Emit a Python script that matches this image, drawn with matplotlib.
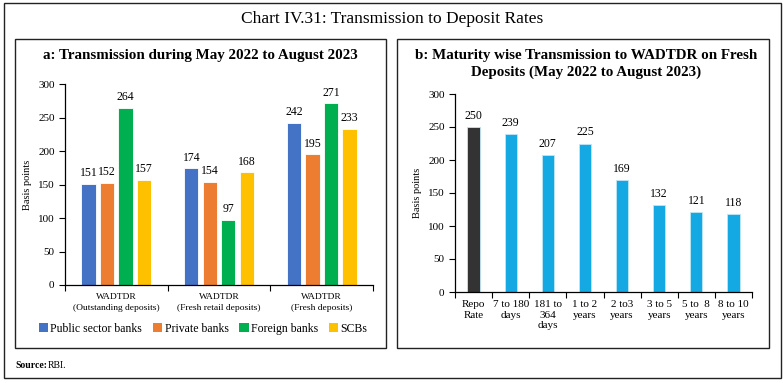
import numpy as np
import matplotlib.pyplot as plt
from matplotlib.patches import Rectangle, Patch

# ---------------- DATA ----------------

groups_a = ["WADTDR\n(Outstanding deposits)", "WADTDR\n(Fresh retail deposits)", "WADTDR\n(Fresh deposits)"]
series_a = ["Public sector banks", "Private banks", "Foreign banks", "SCBs"]
public_sector = [151, 174, 242]
private_banks = [152, 154, 195]
foreign_banks = [264, 97, 271]
scbs = [157, 168, 233]

tenors_b = ["Repo\nRate", "7 to 180\ndays", "181 to\n364\ndays", "1 to 2\nyears",
            "2 to3\nyears", "3 to 5\nyears", "5 to  8\nyears", "8 to 10\nyears"]
transmission_b = [250, 239, 207, 225, 169, 132, 121, 118]

COLORS_A = ["#4472C4", "#ED7D31", "#00B050", "#FFC000"]
REPO_COLOR = "#333333"
TENOR_COLOR = "#14A9E3"

plt.rcParams["font.family"] = ["Liberation Serif", "DejaVu Serif"]

fig = plt.figure(figsize=(7.84, 3.83), dpi=100)
W, H = 784, 383


def box(x0, y0, x1, y1, lw=1.0):
    fig.patches.append(Rectangle((x0 / W, 1 - y1 / H), (x1 - x0) / W, (y1 - y0) / H,
                                 transform=fig.transFigure, fill=False,
                                 edgecolor="#222222", linewidth=lw))


# frames
box(4, 3, 781, 378)
box(15, 39, 386, 348)
box(397, 39, 769, 348)

fig.text(0.5, 1 - 19 / H, "Chart IV.31: Transmission to Deposit Rates",
         ha="center", va="center", fontsize=12.5)
fig.text(200 / W, 1 - 55 / H, "a: Transmission during May 2022 to August 2023",
         ha="center", va="center", fontsize=10.8, fontweight="bold")
fig.text(586 / W, 1 - 64 / H, "b: Maturity wise Transmission to WADTDR on Fresh\nDeposits (May 2022 to August 2023)",
         ha="center", va="center", fontsize=10.8, fontweight="bold", linespacing=1.25)
fig.text(15 / W, 1 - 366 / H, "Source:", ha="left", va="center", fontsize=7, fontweight="bold")
fig.text(48 / W, 1 - 366 / H, "RBI.", ha="left", va="center", fontsize=7)


def style_axes(ax, n):
    for s in ["top", "right"]:
        ax.spines[s].set_visible(False)
    ax.spines["left"].set_linewidth(0.9)
    ax.spines["bottom"].set_linewidth(0.9)
    ax.set_ylim(0, 300)
    ax.set_yticks(range(0, 301, 50))
    ax.set_xlim(-0.5, n - 0.5)
    ax.set_xticks(range(n))
    ax.set_xticks(np.arange(-0.5, n, 1.0), minor=True)
    ax.tick_params(axis="x", which="major", length=0, pad=6)
    ax.tick_params(axis="x", which="minor", length=4, width=0.8)
    ax.tick_params(axis="y", length=4, width=0.8, labelsize=8)
    ax.set_ylabel("Basis points", fontsize=7.5, labelpad=4)


# ---------------- PANEL A ----------------

ax1 = fig.add_axes([65 / W, 1 - 285 / H, 308 / W, 201 / H])
x = np.arange(len(groups_a))
width = 0.14
pitch = 0.18
for i, (vals, name) in enumerate(zip([public_sector, private_banks, foreign_banks, scbs], series_a)):
    pos = x + (i - 1.5) * pitch
    ax1.bar(pos, vals, width, color=COLORS_A[i], edgecolor="white", linewidth=0.6, label=name)
    for px, v in zip(pos, vals):
        ax1.text(px, v + 7, str(v), ha="center", va="bottom", fontsize=8.5)

style_axes(ax1, len(groups_a))
ax1.set_xticklabels(groups_a, fontsize=6.8, linespacing=1.4)

handles = [Patch(facecolor=c, edgecolor="none") for c in COLORS_A]
fig.legend(handles, series_a, loc="center", bbox_to_anchor=(203 / W, 1 - 329 / H),
           ncol=4, frameon=False, fontsize=8.5, handlelength=0.8, handleheight=0.8,
           handletextpad=0.2, columnspacing=0.9)

# ---------------- PANEL B ----------------

ax2 = fig.add_axes([455 / W, 1 - 292 / H, 297 / W, 198 / H])
xb = np.arange(len(tenors_b))
colors_b = [REPO_COLOR] + [TENOR_COLOR] * (len(tenors_b) - 1)
ax2.bar(xb, transmission_b, 0.33, color=colors_b, edgecolor="#BFE6F7", linewidth=0.6)
for px, v in zip(xb, transmission_b):
    ax2.text(px, v + 8, str(v), ha="center", va="bottom", fontsize=8.5)

style_axes(ax2, len(tenors_b))
ax2.set_xticklabels(tenors_b, fontsize=8, linespacing=1.2, va="top")

fig.savefig("out.png", dpi=100)
